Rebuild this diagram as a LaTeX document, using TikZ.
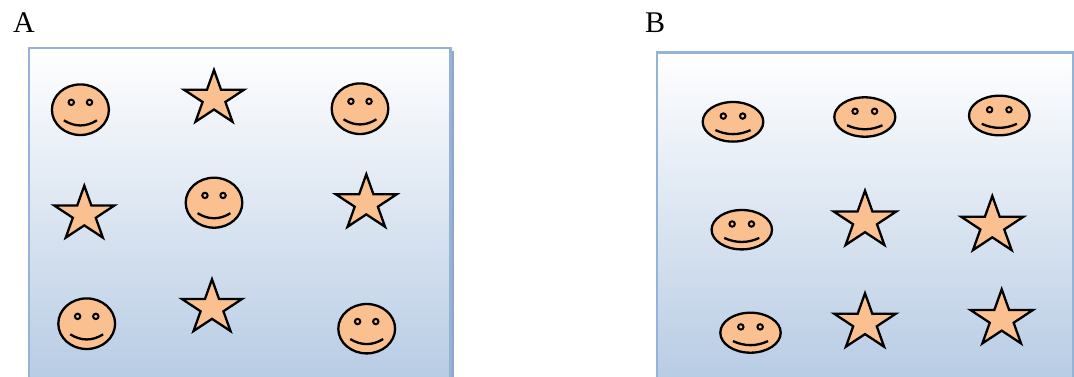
\documentclass[tikz,border=0pt]{standalone}
\usepackage{fontspec}
\setmainfont{Liberation Serif}
\definecolor{shapefill}{HTML}{FAC090}
\definecolor{boxline}{HTML}{95B3D7}
\definecolor{boxbottom}{HTML}{B8CCE4}
\definecolor{boxshadow}{HTML}{8FA7C8}
\tikzset{
  shapeline/.style={draw=black, line width=2.3pt, fill=shapefill},
  eyeline/.style={draw=black, line width=2pt, fill=shapefill},
  mouthline/.style={draw=black, line width=2.3pt},
  panelbox/.style={draw=boxline, line width=2.6pt, top color=white, bottom color=boxbottom},
  panellabel/.style={font=\fontsize{30}{30}\selectfont, anchor=base west, inner sep=0pt},
}
% smiley: cx, cy, rx, ry
\newcommand{\smileyface}[4]{%
  \draw[shapeline] (#1,#2) ellipse [x radius=#3, y radius=#4];
  \draw[eyeline] ({#1-0.32*#3},{#2-0.29*#4}) circle [radius=2.7];
  \draw[eyeline] ({#1+0.32*#3},{#2-0.29*#4}) circle [radius=2.7];
  \draw[mouthline] ({#1-0.58*#3},{#2+0.42*#4}) .. controls ({#1-0.193*#3},{#2+0.69*#4}) and ({#1+0.193*#3},{#2+0.69*#4}) .. ({#1+0.58*#3},{#2+0.42*#4});
}
% star: cx, cy, R
\newcommand{\starfig}[3]{%
  \begin{scope}[shift={(#1,#2)}, yscale=-1, xscale=1.1]
    \draw[shapeline, line join=miter] (90:#3) -- (126:0.382*#3) -- (162:#3) -- (198:0.382*#3) -- (234:#3)
      -- (270:0.382*#3) -- (306:#3) -- (342:0.382*#3) -- (18:#3) -- (54:0.382*#3) -- cycle;
  \end{scope}
}
\begin{document}
\begin{tikzpicture}[x=1pt, y=-1pt]
\useasboundingbox (0,0) rectangle (1074,376);
% labels
\node[panellabel] (labA) at (13,32) {A};
\node[panellabel] (labB) at (645,32) {B};
% panel A
\fill[boxshadow] (451,51) rectangle (454,377);
\path[panelbox] (29,48) rectangle (450.5,378);
% panel B
\path[panelbox] (657,52.5) rectangle (1073,378);
% panel A contents
\smileyface{80.4}{109.7}{28.5}{25.3}
\starfig{214}{98.6}{28.6}
\smileyface{360}{108.7}{28.3}{25.3}
\starfig{84.3}{214.4}{28.7}
\smileyface{214}{202.7}{28.3}{25}
\starfig{366.3}{203.3}{29}
\smileyface{86.7}{323.7}{28.4}{25.3}
\starfig{212}{307.9}{28.6}
\smileyface{366.7}{328.7}{28.4}{24.7}
% panel B contents
\smileyface{733}{121.8}{30.3}{19.8}
\smileyface{864.8}{117}{30.5}{19.7}
\smileyface{999.3}{115.5}{30.3}{19.8}
\smileyface{741.8}{229.7}{30.2}{19.7}
\starfig{865}{220.7}{30}
\starfig{992.3}{225.9}{29.9}
\smileyface{750.5}{332.7}{30.2}{20}
\starfig{865}{322.8}{29.5}
\starfig{1001.7}{319.2}{29.9}
\end{tikzpicture}
\end{document}
